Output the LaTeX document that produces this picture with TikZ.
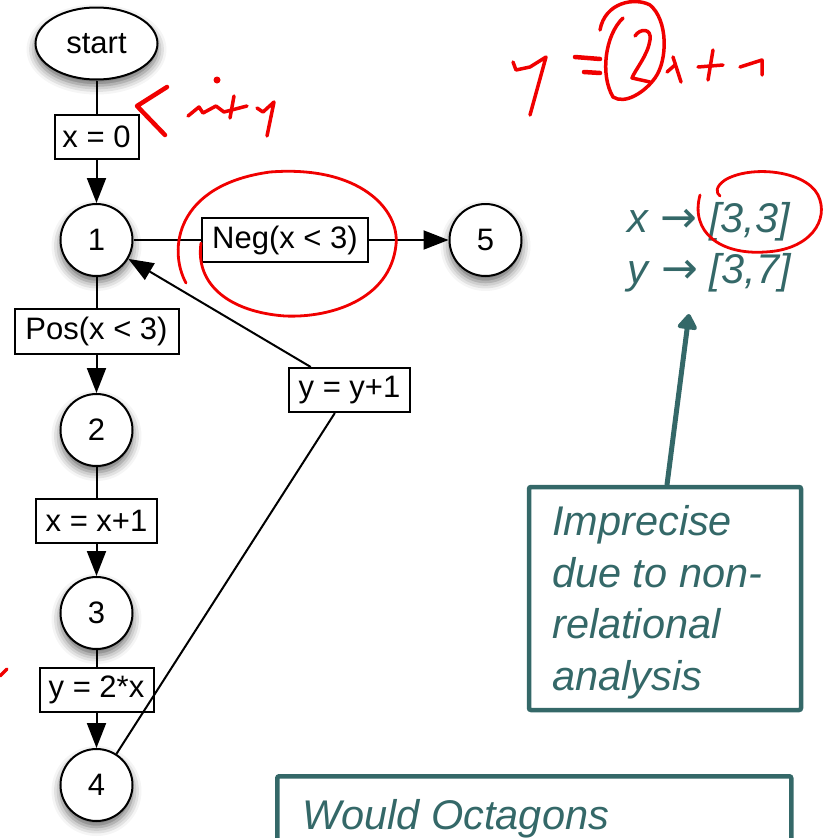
\documentclass[tikz,border=0pt]{standalone}
\usepackage{fontspec}
\setmainfont{Liberation Sans}
\newfontfamily\arrowfont{DejaVu Sans}
\usetikzlibrary{arrows.meta,shapes.geometric,shadows.blur}
\definecolor{tealc}{RGB}{52,104,104}
\definecolor{inkred}{RGB}{240,0,0}
\begin{document}
\begin{tikzpicture}[x=1pt,y=-1pt,
  base/.style={draw, line width=2pt, inner sep=0pt, fill=white, font=\fontsize{31}{37}\selectfont},
  circ/.style={base, circle, minimum size=72pt,
    blur shadow={shadow xshift=0pt, shadow yshift=-6pt, shadow blur radius=9pt, shadow opacity=60}},
  lab/.style={base, rectangle},
  edge/.style={line width=2pt},
  arr/.style={edge, -{Triangle[length=25pt,width=19pt]}},
  tealbox/.style={draw=tealc, line width=4.5pt, rounded corners=2pt, inner sep=0pt},
  tealtext/.style={inner sep=0pt, text=tealc, font=\fontsize{41.5}{51.5}\selectfont},
  ink/.style={inkred, line width=3.5pt, line cap=round, line join=round}]
\useasboundingbox (0,0) rectangle (829,838);
\clip (0,0) rectangle (829,838);

% flow graph nodes
\node[circ, ellipse, minimum width=122pt, minimum height=72pt] (start) at (96.5,43.5) {start};
\node[lab, minimum width=84pt, minimum height=44pt] (a0) at (96.5,137) {x = 0};
\node[circ] (n1) at (96.5,240) {1};
\node[lab, minimum width=166pt, minimum height=44pt] (neg) at (285,240) {Neg(x < 3)};
\node[circ] (n5) at (485.5,240) {5};
\node[lab, minimum width=164pt, minimum height=45pt] (pos) at (96.5,331) {Pos(x < 3)};
\node[circ] (n2) at (96.5,430) {2};
\node[lab, minimum width=121pt, minimum height=44pt] (inc) at (96.5,521) {x = x+1};
\node[circ] (n3) at (96.5,613) {3};
\node[lab, minimum width=114pt, minimum height=44pt] (dbl) at (96.5,690) {y = 2*x};
\node[circ] (n4) at (96.5,785) {4};
\node[lab, minimum width=121pt, minimum height=44pt] (yinc) at (349.5,390) {y = y+1};

% connectors
\draw[edge] (start) -- (a0);
\draw[arr] (a0) -- (n1);
\draw[edge] (n1) -- (pos);
\draw[arr] (pos) -- (n2);
\draw[edge] (n2) -- (inc);
\draw[arr] (inc) -- (n3);
\draw[edge] (n3) -- (dbl);
\draw[arr] (dbl) -- (n4);
\draw[edge] (n1) -- (neg);
\draw[arr] (neg) -- (n5);
\draw[edge] (n4) -- (yinc);
\draw[arr] (yinc) -- (n1);

% teal annotations
\node[tealtext, anchor=base west] (r1) at (627,232) {\textit{x} {\arrowfont\fontsize{44}{50}\selectfont →} \textit{[3,3]}};
\node[tealtext, anchor=base west] (r2) at (627,283) {\textit{y} {\arrowfont\fontsize{44}{50}\selectfont →} \textit{[3,7]}};
\node[tealbox, minimum width=272pt, minimum height=223pt] (imp) at (665,598.5) {};
\node[tealtext, anchor=north west, align=left, font=\fontsize{41.5}{51.5}\selectfont\itshape] (imptext) at (552,505.5) {Imprecise\\due to non-\\relational\\analysis};
\coordinate (tip) at (689,314);
\draw[tealc, line width=5pt, line cap=round, -{Triangle[round,length=17pt,width=22pt]}] ([xshift=2pt]imp.north) -- (tip);
\node[tealbox, anchor=north west, minimum width=514pt, minimum height=120pt] (oct) at (275,774) {};
\node[tealtext, anchor=base west, font=\fontsize{41.5}{51.5}\selectfont\itshape] (octtext) at (302,829) {Would Octagons};

% red handwriting
\draw[ink, line width=2.8pt] (186,283) .. controls (168,250) and (175,185) .. (270,172)
  .. controls (360,165) and (400,210) .. (396,245)
  .. controls (390,300) and (330,318) .. (285,316)
  .. controls (230,312) and (195,285) .. (201,243);
\draw[ink, line width=2.8pt] (700,195) .. controls (690,232) and (720,255) .. (765,252)
  .. controls (810,250) and (830,220) .. (818,195)
  .. controls (805,170) and (750,165) .. (725,180)
  .. controls (715,187) and (716,193) .. (720,196);
% < ity
\draw[ink, line width=4.5pt] (167,87) -- (137,106) -- (165,135);
\fill[inkred] (217,80) circle (3.5pt);
\draw[ink] (188,116) -- (199,107) -- (203,113) -- (216,106) -- (224,112) -- (247,106);
\draw[ink] (234,96) -- (230,118);
\draw[ink] (257,108) -- (263,112) -- (274,102) -- (267,136);
% y = (2) x + ?
\draw[ink] (513,62) -- (516,70) -- (530,67) -- (546,57) -- (530,115);
\draw[ink, line width=4.5pt] (575,57) -- (600,59);
\draw[ink, line width=4.5pt] (584,72) -- (600,73);
\draw[ink] (623,18) .. controls (605,35) and (600,75) .. (613,97)
  .. controls (625,105) and (645,92) .. (655,78)
  .. controls (668,60) and (668,20) .. (650,5)
  .. controls (635,-3) and (605,2) .. (600,30);
\draw[ink] (635,36) .. controls (640,28) and (652,28) .. (650,40)
  .. controls (648,55) and (635,70) .. (632,78) -- (650,82);
\draw[ink] (673,57) -- (681,82);
\draw[ink] (667,72) -- (675,65);
\draw[ink] (698,67) -- (723,65);
\draw[ink] (713,50) -- (708,80);
\draw[ink] (740,67) -- (762,60) -- (762,75);
\draw[ink] (0,676) -- (7,669);
\end{tikzpicture}
\end{document}
